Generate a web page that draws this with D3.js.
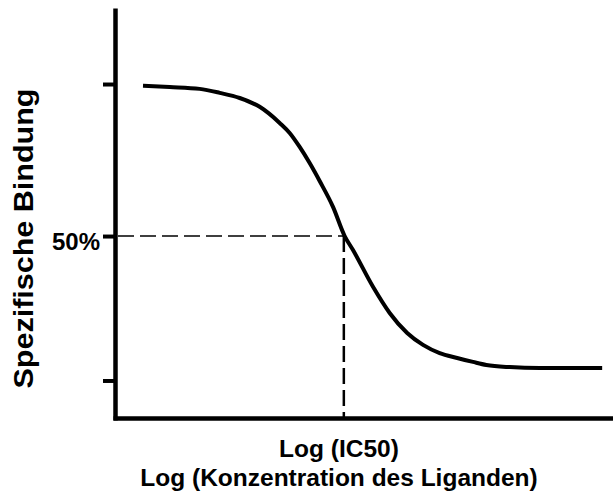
<!DOCTYPE html>
<html>
<head>
<meta charset="utf-8">
<script src="https://cdn.jsdelivr.net/npm/d3@7"></script>
<style>
  body { margin: 0; background: #fff; }
  svg { display: block; font-family: "Liberation Sans", Arial, sans-serif; }
  .lbl { font-weight: bold; fill: #000; }
</style>
</head>
<body>
<div class="chart"></div>
<script>
var svgWidth = 613;
var svgHeight = 494;

// log concentration of the ligand
var logConc = [-9.64, -9.32, -8.96, -8.72, -8.48, -8.24, -8.0, -7.88, -7.76, -7.64, -7.52, -7.36,
  -7.22, -7.12, -6.88, -6.68, -6.47, -6.28, -6.08, -5.87, -5.68, -5.52, -5.24, -4.88, -4.13];
// specific binding (%)
var binding = [99.4, 99.0, 98.4, 97.1, 95.4, 92.5, 87.2, 83.9, 79.3, 74.0, 68.1, 59.6,
  50.0, 45.4, 33.3, 24.7, 18.1, 14.2, 11.5, 9.9, 8.6, 7.6, 6.9, 6.6, 6.6];
var yTicks = [2.5, 50, 100];
var logIC50 = -7.23;
var halfBinding = 50;

var svg = d3.select(".chart")
  .append("svg")
  .attr("width", svgWidth)
  .attr("height", svgHeight);

var x = d3.scaleLinear()
  .domain([-10, -4])
  .range([113, 613]);

var y = d3.scaleLinear()
  .domain([-10.5, 125])
  .range([420, 8]);

// dashed guide lines to the IC50
svg.append("line")
  .attr("x1", 118).attr("x2", x(logIC50))
  .attr("y1", y(halfBinding)).attr("y2", y(halfBinding))
  .attr("stroke", "#000")
  .attr("stroke-width", 1.5)
  .attr("stroke-dasharray", "16,6");

svg.append("line")
  .attr("x1", x(logIC50)).attr("x2", x(logIC50))
  .attr("y1", y(halfBinding)).attr("y2", y(-10.5))
  .attr("stroke", "#000")
  .attr("stroke-width", 2.5)
  .attr("stroke-dasharray", "16,6");

// sigmoid curve
var line = d3.line()
  .x(function(d, i) { return x(logConc[i]); })
  .y(function(d) { return y(d); })
  .curve(d3.curveMonotoneX);

svg.append("path")
  .datum(binding)
  .attr("d", line)
  .attr("fill", "none")
  .attr("stroke", "#000")
  .attr("stroke-width", 4)
  .attr("stroke-linejoin", "round");

// axes
var leftAxis = d3.axisLeft(y)
  .tickValues(yTicks)
  .tickSize(12)
  .tickSizeOuter(0)
  .tickPadding(3)
  .tickFormat(function(d) { return d === 50 ? "50%" : ""; });

var yAxis = svg.append("g")
  .attr("transform", "translate(115,0)")
  .call(leftAxis);

yAxis.select(".domain").attr("stroke-width", 4.5);
yAxis.selectAll(".tick line").attr("stroke-width", 4);
yAxis.selectAll(".tick text")
  .attr("class", "lbl")
  .attr("dy", "0.54em")
  .style("font-size", "24px");

var bottomAxis = d3.axisBottom(x)
  .tickValues([])
  .tickSizeOuter(0);

var xAxis = svg.append("g")
  .attr("transform", "translate(0,418)")
  .call(bottomAxis);

xAxis.select(".domain").attr("stroke-width", 4.5);

// axis titles
svg.append("text")
  .attr("class", "lbl")
  .attr("x", 339)
  .attr("y", 457)
  .attr("text-anchor", "middle")
  .style("font-size", "24.5px")
  .text("Log (IC50)");

svg.append("text")
  .attr("class", "lbl")
  .attr("x", 339)
  .attr("y", 486)
  .attr("text-anchor", "middle")
  .style("font-size", "24.5px")
  .text("Log (Konzentration des Liganden)");

svg.append("text")
  .attr("class", "lbl")
  .attr("transform", "translate(33,238.5) rotate(-90)")
  .attr("text-anchor", "middle")
  .attr("textLength", 300)
  .attr("lengthAdjust", "spacingAndGlyphs")
  .style("font-size", "27px")
  .text("Spezifische Bindung");
</script>
</body>
</html>
